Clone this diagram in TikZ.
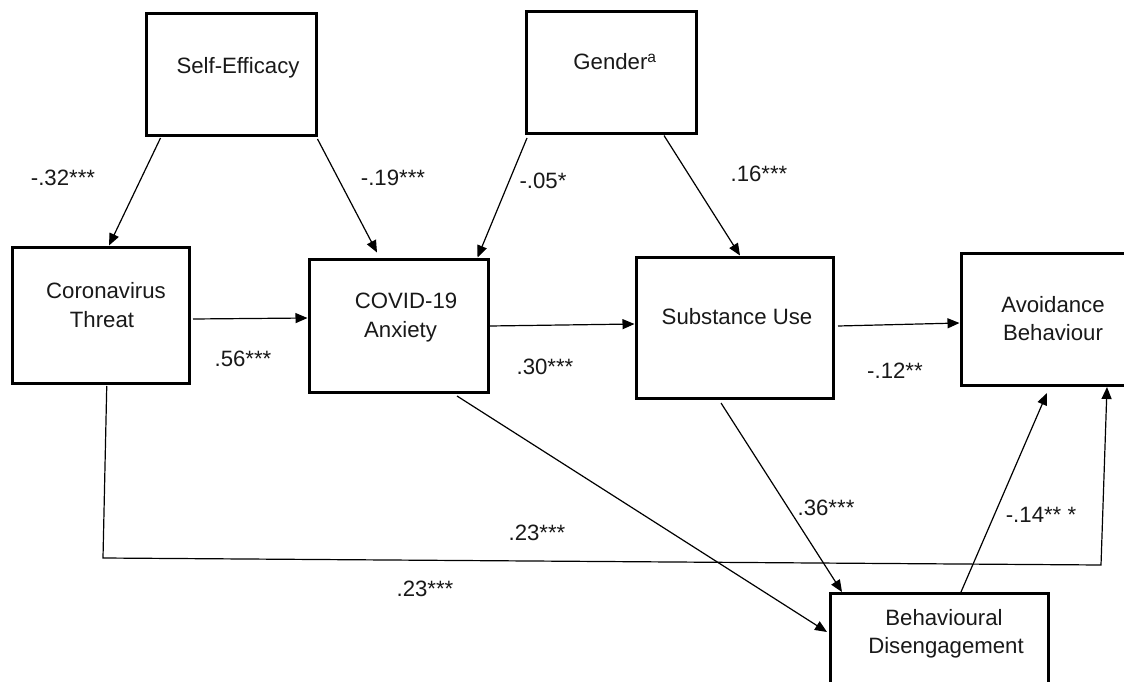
\documentclass[tikz,border=0pt]{standalone}
\usepackage{fontspec}
\setmainfont{Liberation Sans}
\usetikzlibrary{arrows.meta,calc}
\begin{document}
\begin{tikzpicture}[x=1pt,y=-1pt,
  box/.style={draw=black,line width=3pt,rectangle,inner sep=0pt,outer sep=1.5pt},
  txt/.style={anchor=base,inner sep=0pt,outer sep=0pt,text=black!90,font=\fontsize{22.2}{26}\selectfont},
  conn/.style={line width=1.2pt,-{Triangle[length=12pt,width=10pt]}},
  plain/.style={line width=1.2pt}]
\clip (0,0) rectangle (1124,682);
\fill[white] (0,0) rectangle (1124,682);
% boxes
\node[box,minimum width=170pt,minimum height=122pt] (SE) at (231,75) {};
\node[box,minimum width=170pt,minimum height=122pt] (G) at (611,73) {};
\node[box,minimum width=176.5pt,minimum height=136pt] (CT) at (100.75,315) {};
\node[box,minimum width=179pt,minimum height=133pt] (CA) at (398.5,325.5) {};
\node[box,minimum width=197pt,minimum height=141pt] (SU) at (734.5,327.5) {};
\node[box,minimum width=220pt,minimum height=132pt] (AB) at (1071,319) {};
\node[box,minimum width=218pt,minimum height=130pt] (BD) at (939,658) {};
% box texts
\node[txt] (tSE) at (238,74) {Self-Efficacy};
\node[txt] (tG) at (615,70) {Gender\textsuperscript{a}};
\node[txt] (tCT1) at (106,298) {Coronavirus};
\node[txt] (tCT2) at (102,327) {Threat};
\node[txt] (tCA1) at (406,308) {COVID-19};
\node[txt] (tCA2) at (400.5,337) {Anxiety};
\node[txt] (tSU) at (737,324) {Substance Use};
\node[txt] (tAB1) at (1053,312) {Avoidance};
\node[txt] (tAB2) at (1053,340) {Behaviour};
\node[txt] (tBD1) at (944,625) {Behavioural};
\node[txt] (tBD2) at (946,653) {Disengagement};
% connectors
\draw[conn] ($(SE.south west)+(16,0.5)$) -- ($(CT.north west)+(98,0)$);
\draw[conn] ($(SE.south east)+(0,1.5)$) -- ($(CA.north west)+(69.5,-5)$);
\draw[conn] ($(G.south west)+(2.5,2.5)$) -- ($(CA.north west)+(170,0)$);
\draw[conn] ($(G.south west)+(139.5,0)$) -- ($(SU.north west)+(105.5,0)$);
\draw[conn] ($(CT.east)+(2.5,4)$) -- ($(CA.west)+(0,-7.5)$);
\draw[conn] ($(CA.east)+(0,0.5)$) -- ($(SU.west)+(0,-3.5)$);
\draw[conn] ($(SU.east)+(3.5,-1.5)$) -- ($(AB.west)+(0,4)$);
\draw[conn] ($(CA.south west)+(149.5,2.5)$) -- ($(BD.north west)+(-1.5,40.5)$);
\draw[conn] ($(SU.south west)+(86.5,3.5)$) -- ($(BD.north west)+(13.5,0.5)$);
\draw[conn] ($(BD.north west)+(132.5,0.5)$) -- ($(AB.south west)+(87.5,6.5)$);
\coordinate (e1) at (103,558);
\coordinate (e2) at (1101,565);
\draw[conn] ($(CT.south west)+(95.75,1.5)$) -- (e1) -- (e2) -- ($(AB.south west)+(147.5,0.5)$);
% path labels
\node[txt] (l1) at (63,185) {-.32***};
\node[txt] (l2) at (393,185) {-.19***};
\node[txt] (l3) at (543,188) {-.05*};
\node[txt] (l4) at (759,181) {.16***};
\node[txt] (l5) at (243,366) {.56***};
\node[txt] (l6) at (545,374) {.30***};
\node[txt] (l7) at (895,378) {-.12**};
\node[txt] (l8) at (826,515) {.36***};
\node[txt] (l9) at (1041,522) {-.14** *};
\node[txt] (l10) at (537,540) {.23***};
\node[txt] (l11) at (425,596) {.23***};
\end{tikzpicture}
\end{document}
